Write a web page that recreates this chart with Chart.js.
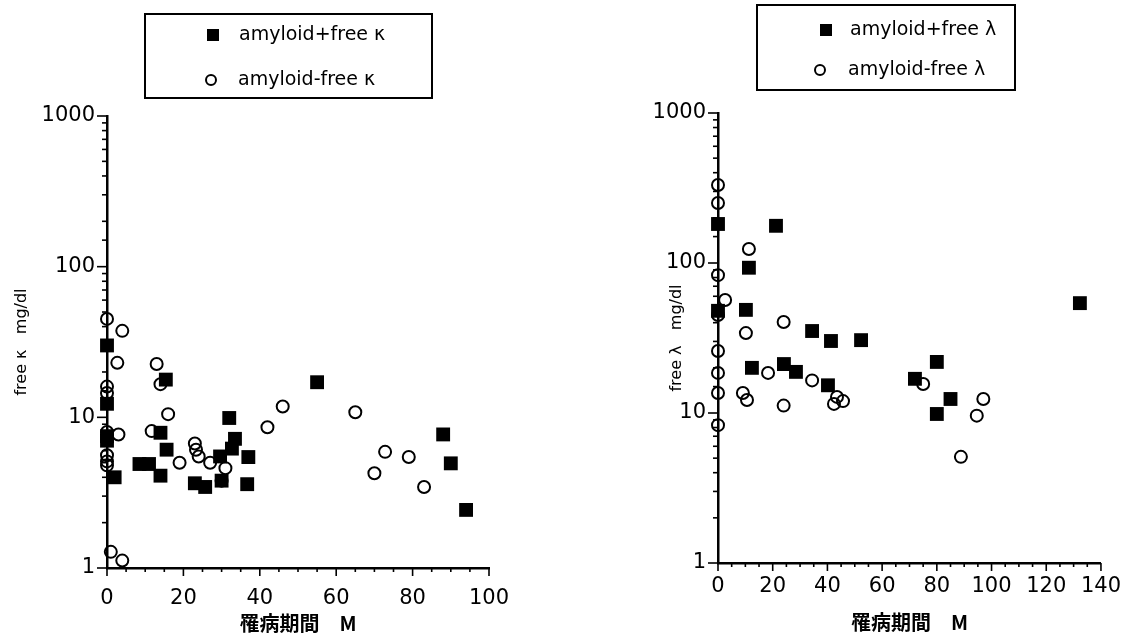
<!DOCTYPE html>
<html><head><meta charset="utf-8">
<script src="https://cdn.jsdelivr.net/npm/chart.js@4/dist/chart.umd.min.js"></script>
<style>
html,body{margin:0;padding:0;background:#fff;}
#wrap{position:relative;width:1125px;height:638px;overflow:hidden;}
canvas{position:absolute;top:0;}
#c1{left:0;} #c2{left:560px;}
</style></head><body>
<div id="wrap"><canvas id="c1" width="560" height="638"></canvas><canvas id="c2" width="572" height="638"></canvas></div>
<script>
// ---- data ----
const kappaPlusX = [0, 0, 0, 0, 2, 8.5, 11, 14, 14, 15.4, 15.6, 23, 25.7, 29.6, 30, 32, 32.7, 33.5, 36.7, 37, 55, 88, 90, 94];
const kappaPlusY = [30, 12.3, 7.5, 7.0, 4.0, 4.9, 4.9, 4.1, 7.9, 17.8, 6.1, 3.65, 3.45, 5.5, 3.8, 9.9, 6.2, 7.2, 3.6, 5.45, 17.1, 7.7, 4.95, 2.43];
const kappaFreeX = [0, 4, 2.7, 13, 14, 0, 0, 16, 3, 11.7, 0, 0, 0, 0, 23, 23.3, 19, 24, 27, 31, 30, 42, 46, 65, 70, 72.8, 79, 83, 1, 4];
const kappaFreeY = [45, 37.5, 23, 22.6, 16.6, 16, 14.5, 10.5, 7.7, 8.1, 8.0, 5.6, 5.1, 4.8, 6.7, 6.1, 5.0, 5.5, 5.0, 4.6, 3.8, 8.6, 11.8, 10.8, 4.25, 5.9, 5.45, 3.45, 1.28, 1.12];

const lambdaPlusX = [0, 21.2, 11.3, 0, 10.2, 34.4, 41.3, 52.3, 12.4, 24.1, 28.5, 40.2, 132.3, 80, 72, 85, 80];
const lambdaPlusY = [182, 177, 93, 48, 48.7, 35.2, 30.2, 30.6, 20, 21.2, 18.8, 15.3, 54, 21.9, 16.9, 12.4, 9.85];
const lambdaFreeX = [0, 0, 11.3, 0, 2.6, 0, 24, 10.2, 0, 18.3, 0, 34.4, 0, 9.1, 10.6, 24, 43.5, 45.7, 42.4, 0, 75, 97, 94.6, 88.8];
const lambdaFreeY = [331, 251, 124, 83, 56.7, 45, 40.4, 34.1, 25.9, 18.5, 18.5, 16.5, 13.6, 13.6, 12.2, 11.2, 12.8, 12.0, 11.5, 8.3, 15.6, 12.4, 9.6, 5.1];

const xTickLabelsLeft = [0, 20, 40, 60, 80, 100];
const xTickLabelsRight = [0, 20, 40, 60, 80, 100, 120, 140];
const yTickLabels = [1, 10, 100, 1000];
const labelsKappa = ['amyloid+free κ', 'amyloid-free κ'];
const labelsLambda = ['amyloid+free λ', 'amyloid-free λ'];
const yTitleKappa = 'free κ   mg/dl';
const yTitleLambda = 'free λ   mg/dl';
const xTitle = '罹病期間　M';

const toPts = (xs, ys) => xs.map((x, i) => ({x: x, y: ys[i]}));
const FONT = "'DejaVu Sans', 'Noto Sans CJK JP', sans-serif";

// tick marks drawn through the chart's own scales
const tickMarks = {
  id: 'tickMarks',
  afterDraw(chart) {
    const ctx = chart.ctx, a = chart.chartArea, xs = chart.scales.x, ys = chart.scales.y;
    ctx.save();
    ctx.strokeStyle = '#000'; ctx.lineWidth = 1.6;
    ys.ticks.forEach(t => {
      const p = ys.getPixelForValue(t.value);
      const major = yTickLabels.includes(t.value);
      ctx.beginPath(); ctx.moveTo(a.left, p); ctx.lineTo(a.left - (major ? 10 : 5), p); ctx.stroke();
    });
    const majors = chart.options.plugins.tickMarks.xMajors;
    xs.ticks.forEach(t => {
      const p = xs.getPixelForValue(t.value);
      const major = majors.includes(t.value);
      ctx.beginPath(); ctx.moveTo(p, a.bottom); ctx.lineTo(p, a.bottom + (major ? 8 : 4)); ctx.stroke();
    });
    ctx.restore();
  }
};

// boxed legend drawn from the dataset labels
const boxLegend = {
  id: 'boxLegend',
  afterDraw(chart) {
    const o = chart.options.plugins.boxLegend;
    const ctx = chart.ctx;
    ctx.save();
    ctx.strokeStyle = '#000'; ctx.lineWidth = 2;
    ctx.strokeRect(o.box[0], o.box[1], o.box[2] - o.box[0], o.box[3] - o.box[1]);
    ctx.font = '19px ' + FONT; ctx.fillStyle = '#000'; ctx.textBaseline = 'middle'; ctx.textAlign = 'left';
    chart.data.datasets.forEach((ds, i) => {
      const r = o.rows[i];
      if (ds.pointStyle === 'rect') {
        ctx.fillRect(r.sx - 6, r.sy - 6, 12, 12);
      } else {
        ctx.beginPath(); ctx.arc(r.sx, r.sy, 5, 0, Math.PI * 2); ctx.stroke();
      }
      ctx.fillText(ds.label, r.tx, r.sy);
    });
    ctx.restore();
  }
};

function makeChart(id, cfg) {
  return new Chart(document.getElementById(id), {
    type: 'scatter',
    data: {
      datasets: [
        {label: cfg.labels[0], data: cfg.plus, pointStyle: 'rect', pointRadius: 9.8, backgroundColor: '#000', borderColor: '#000', borderWidth: 0, clip: false},
        {label: cfg.labels[1], data: cfg.free, pointStyle: 'circle', pointRadius: 6, backgroundColor: 'rgba(255,255,255,0)', borderColor: '#000', borderWidth: 2, clip: false}
      ]
    },
    plugins: [tickMarks, boxLegend],
    options: {
      responsive: false, animation: false, events: [], devicePixelRatio: 1,
      layout: {padding: cfg.padding},
      plugins: {
        legend: {display: false}, tooltip: {enabled: false},
        tickMarks: {xMajors: cfg.xTickLabels},
        boxLegend: cfg.legend
      },
      scales: {
        x: {
          type: 'linear', min: 0, max: cfg.xMax,
          afterFit: s => { s.height = cfg.xHeight; },
          grid: {display: true, drawOnChartArea: false, drawTicks: false},
          border: {display: true, color: '#000', width: 2.5},
          ticks: {stepSize: 5, autoSkip: false, maxRotation: 0, padding: cfg.xTickPad, color: '#000', font: {family: FONT, size: 21},
                  callback: v => cfg.xTickLabels.includes(v) ? String(v) : ''},
          title: {display: true, text: xTitle, color: '#000', padding: {top: 0, bottom: cfg.xTitlePad}, font: {family: "'Noto Sans CJK JP', sans-serif", size: 20, weight: 'bold'}}
        },
        y: {
          type: 'logarithmic', min: 1, max: 1000,
          afterFit: s => { s.width = cfg.yWidth; },
          grid: {display: true, drawOnChartArea: false, drawTicks: false},
          border: {display: true, color: '#000', width: 2.5},
          ticks: {autoSkip: false, padding: 12, color: '#000', font: {family: FONT, size: 21},
                  callback: v => yTickLabels.includes(v) ? String(v) : ''},
          title: {display: true, text: cfg.yTitle, color: '#000', padding: {top: cfg.yTitlePad, bottom: 0}, font: {family: FONT, size: 16}}
        }
      }
    }
  });
}

makeChart('c1', {
  labels: labelsKappa, plus: toPts(kappaPlusX, kappaPlusY), free: toPts(kappaFreeX, kappaFreeY),
  xMax: 100, xTickLabels: xTickLabelsLeft, yTitle: yTitleKappa,
  padding: {left: 12, top: 116, right: 71, bottom: 0}, yWidth: 95, yTitlePad: 0, xHeight: 70, xTickPad: 18, xTitlePad: 3,
  legend: {box: [145, 14, 432, 98], rows: [{sx: 213, sy: 35, tx: 239}, {sx: 211, sy: 80, tx: 238}]}
});
makeChart('c2', {
  labels: labelsLambda, plus: toPts(lambdaPlusX, lambdaPlusY), free: toPts(lambdaFreeX, lambdaFreeY),
  xMax: 140, xTickLabels: xTickLabelsRight, yTitle: yTitleLambda,
  padding: {left: 30, top: 113, right: 17, bottom: 0}, yWidth: 128, yTitlePad: 77, xHeight: 75, xTickPad: 11, xTitlePad: 4,
  legend: {box: [197, 5, 455, 90], rows: [{sx: 266, sy: 30, tx: 290}, {sx: 260, sy: 70, tx: 288}]}
});
</script>
</body></html>
